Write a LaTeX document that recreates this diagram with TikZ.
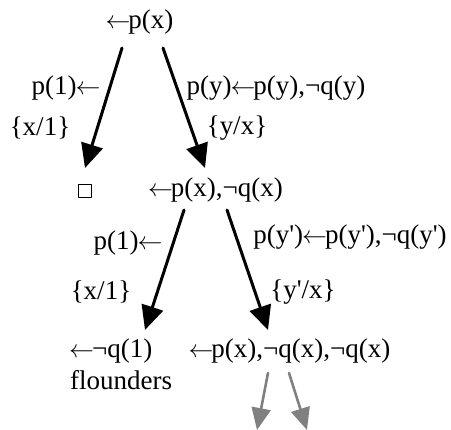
\documentclass[tikz,border=0pt]{standalone}
\usepackage{fontspec}
\setmainfont{Liberation Serif}
\usetikzlibrary{arrows.meta}
\newcommand{\pr}{\textquotesingle}
\newcommand{\la}{\kern-1pt$\leftarrow$\kern-2pt}
\begin{document}
\begin{tikzpicture}[x=1pt,y=-1pt,line cap=round,line join=round,
  font=\fontsize{27}{32}\selectfont,
  derive/.style={line width=3pt,-{Triangle[length=24pt,width=22pt]}},
  further/.style={line width=2.6pt,black!50,-{Triangle[length=22pt,width=19pt]}},
  lbl/.style={inner sep=0pt}]
\path[use as bounding box] (0,0) rectangle (451,430);
% Root goal and first resolution step.
\node[lbl] (root) at (140,22) {\la p(x)};
\coordinate (root-l) at (122,48);
\coordinate (root-r) at (163,48);
\coordinate (empty-in) at (85,168);
\coordinate (g1-in) at (205,168);
\node[lbl] (c1a) at (65,88) {p(1)\la};
\node[lbl] (s1a) at (40,128) {\{x/1\}};
\node[lbl] (c1b) at (276,88) {p(y)\la p(y),¬q(y)};
\node[lbl] (s1b) at (237,128) {\{y/x\}};
\draw[derive] (root-l) -- (empty-in);
\draw[derive] (root-r) -- (g1-in);
% Empty clause and the next goal.
\node[draw,line width=0.9pt,minimum size=13pt,inner sep=0pt] (empty) at (85,191) {};
\node[lbl] (g1) at (216,190) {\la p(x),¬q(x)};
% Second resolution step.
\coordinate (g1-l) at (184,210);
\coordinate (g1-r) at (227,210);
\coordinate (fl-in) at (145,330);
\coordinate (g2-in) at (268,330);
\node[lbl] (c2a) at (127,243) {p(1)\la};
\node[lbl] (s2a) at (101,292) {\{x/1\}};
\node[lbl] (c2b) at (350,237) {p(y\pr)\la p(y\pr),¬q(y\pr)};
\node[lbl] (s2b) at (303,292) {\{y\pr/x\}};
\draw[derive] (g1-l) -- (fl-in);
\draw[derive] (g1-r) -- (g2-in);
\node[lbl,anchor=west] (fl) at (70,351) {\la¬q(1)};
\node[lbl,anchor=west] (fltxt) at (70,380) {flounders};
\node[lbl] (g2) at (290,351) {\la p(x),¬q(x),¬q(x)};
% Infinite branch continues.
\coordinate (g2-l) at (268,373);
\coordinate (g2-r) at (289,373);
\coordinate (g3-l) at (257,430);
\coordinate (g3-r) at (307,430);
\draw[further] (g2-l) -- (g3-l);
\draw[further] (g2-r) -- (g3-r);
\end{tikzpicture}
\end{document}
